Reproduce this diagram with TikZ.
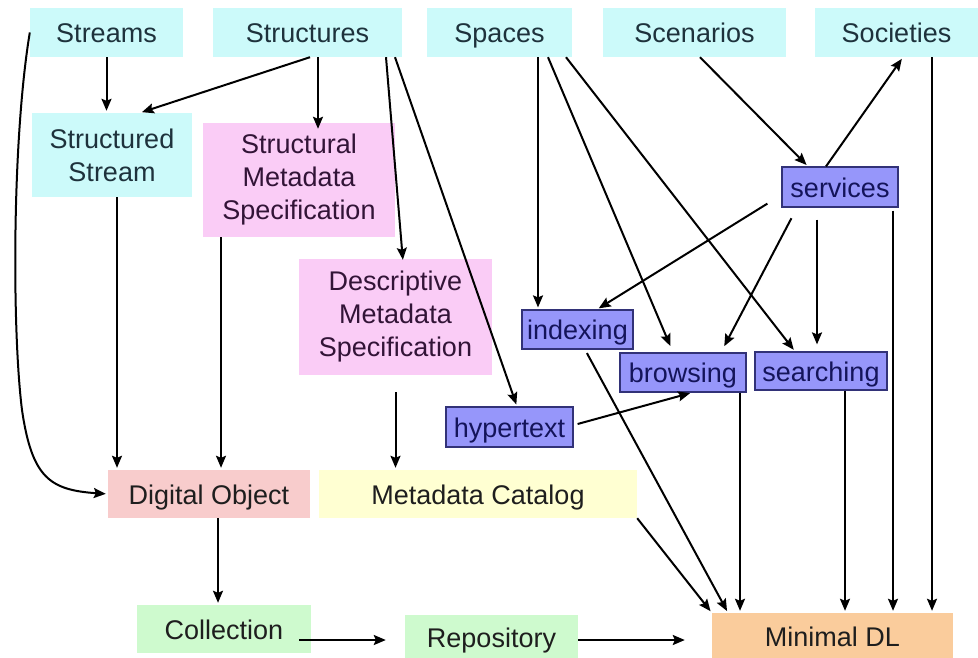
\documentclass[tikz,border=0pt]{standalone}
\usepackage{fontspec}
\setmainfont{Liberation Sans}
\usetikzlibrary{arrows.meta}
\definecolor{cyanbox}{RGB}{204,250,250}
\definecolor{pinkbox}{RGB}{250,204,246}
\definecolor{bluebox}{RGB}{150,150,250}
\definecolor{blueedge}{RGB}{50,50,120}
\definecolor{redbox}{RGB}{248,204,204}
\definecolor{yelbox}{RGB}{255,255,210}
\definecolor{greenbox}{RGB}{206,250,206}
\definecolor{orangebox}{RGB}{250,204,156}
\definecolor{cyantext}{RGB}{30,50,60}
\definecolor{pinktext}{RGB}{50,20,55}
\definecolor{bluetext}{RGB}{20,20,90}
\definecolor{darktext}{RGB}{30,30,30}
\begin{document}
\begin{tikzpicture}[x=1pt,y=-1pt,
  every node/.style={font=\fontsize{27}{33}\selectfont, align=center, inner sep=0pt},
  one/.style={text height=21pt, text depth=1pt},
  bx/.style n args={2}{minimum width=#1pt, minimum height=#2pt},
  cy/.style={fill=cyanbox, text=cyantext},
  pk/.style={fill=pinkbox, text=pinktext},
  bl/.style={fill=bluebox, draw=blueedge, line width=1.2pt, text=bluetext},
  arr/.style={line width=2pt, -{Stealth[length=12pt,width=10pt,inset=2pt]}, shorten >=2pt}
]
\useasboundingbox (0,0) rectangle (978,657);
% top row
\node[cy, one, bx={153}{49}] (streams) at (106.5,32.5) {Streams};
\node[cy, one, bx={189}{49}] (structures) at (307.5,32.5) {Structures};
\node[cy, one, bx={145}{49}] (spaces) at (499.5,32.5) {Spaces};
\node[cy, one, bx={183}{49}] (scenarios) at (694.5,32.5) {Scenarios};
\node[cy, one, bx={163}{49}] (societies) at (896.5,32.5) {Societies};
% second level
\node[cy, bx={160}{84}] (sstream) at (112,155) {Structured\\Stream};
\node[pk, bx={192}{114}] (smeta) at (299,180) {Structural\\Metadata\\Specification};
\node[pk, bx={193}{116}] (dmeta) at (395.5,317) {Descriptive\\Metadata\\Specification};
% services
\node[bl, one, bx={116}{40}] (services) at (840,187) {services};
\node[bl, one, bx={111}{39}] (indexing) at (577.5,329.5) {indexing};
\node[bl, one, bx={126}{39}] (browsing) at (683,372.5) {browsing};
\node[bl, one, bx={132}{38}] (searching) at (821,371) {searching};
\node[bl, one, bx={127}{40}] (hypertext) at (509.5,427) {hypertext};
% lower
\node[fill=redbox, text=darktext, one, bx={202}{48}] (digobj) at (209,494) {Digital Object};
\node[fill=yelbox, text=darktext, one, bx={318}{48}] (metacat) at (478,494) {Metadata Catalog};
\node[fill=greenbox, text=darktext, one, bx={174}{48}] (collection) at (224,629) {Collection};
\node[fill=greenbox, text=darktext, one, bx={173}{44}] (repository) at (491.5,637) {Repository};
\node[fill=orangebox, text=darktext, one, bx={241}{46}] (minimal) at (832.5,636) {Minimal DL};
% edges
\draw[arr] (streams.south) -- (streams.south |- sstream.north);
\draw[arr] ([xshift=2.5pt]structures.south) -- ([xshift=28pt]sstream.north);
\draw[arr] ([xshift=10.5pt]structures.south) -- ([xshift=10.5pt,yshift=-8pt]structures.south |- smeta.north);
\draw[arr] ([xshift=78.5pt]structures.south) -- ([xshift=7.5pt,yshift=-3pt]dmeta.north);
\draw[arr] ([xshift=87.5pt]structures.south) -- ([xshift=7.5pt]hypertext.north);
\draw[arr] (streams.west) .. controls (12,140) and (12,330) .. (22,410) .. controls (32,478) and (50,490) .. (digobj.west);
\draw[arr] ([xshift=5pt]sstream.south) -- ([xshift=5pt]sstream.south |- digobj.north);
\draw[arr] ([xshift=-78pt]smeta.south) -- ([xshift=-78pt]smeta.south |- digobj.north);
\draw[arr, shorten <=17pt] (dmeta.south) -- (dmeta.south |- metacat.north);
\draw[arr] ([xshift=9pt]digobj.south) -- ([xshift=9pt]digobj.south |- collection.north);
\draw[arr, shorten >=7pt] ([shift={(-12pt,-11pt)}]collection.east) -- ([shift={(-12pt,-11pt)}]collection.east -| repository.west);
\draw[arr, shorten >=27pt] ([yshift=-3pt]repository.east) -- ([yshift=-3pt]repository.east -| minimal.west);
\draw[arr] (metacat.south east) -- (minimal.north west);
\draw[arr] ([xshift=38.5pt]spaces.south) -- ([xshift=38.5pt]spaces.south |- indexing.north);
\draw[arr, shorten >=7pt] ([xshift=48.5pt]spaces.south) -- ([xshift=-10pt]browsing.north);
\draw[arr, shorten >=2pt] ([xshift=66.5pt]spaces.south) -- ([xshift=-26pt]searching.north);
\draw[arr] ([xshift=5.5pt]scenarios.south) -- ([xshift=-32pt]services.north);
\draw[arr] ([xshift=-14pt]services.north) -- ([xshift=6.5pt]societies.south);
\draw[arr] ([xshift=35.5pt]societies.south) -- ([xshift=35.5pt]societies.south |- minimal.north);
\draw[arr, shorten <=3pt] ([xshift=53pt]services.south) -- ([xshift=53pt]services.south |- minimal.north);
\draw[arr] ([shift={(-14pt,4pt)}]services.south west) -- ([xshift=19.5pt]indexing.north);
\draw[arr, shorten <=12pt, shorten >=7pt] ([xshift=-43pt]services.south) -- ([xshift=38pt]browsing.north);
\draw[arr, shorten <=12pt, shorten >=7pt] ([xshift=-23pt]services.south) -- ([xshift=-23pt]services.south |- searching.north);
\draw[arr, shorten <=4pt] ([xshift=7.5pt]indexing.south) -- ([xshift=-104.5pt]minimal.north);
\draw[arr] ([xshift=57pt]browsing.south) -- ([xshift=57pt]browsing.south |- minimal.north);
\draw[arr] ([xshift=24pt]searching.south) -- ([xshift=24pt]searching.south |- minimal.north);
\draw[arr] ([xshift=4pt,yshift=3pt]hypertext.east) -- ([xshift=9pt]browsing.south);
\end{tikzpicture}
\end{document}
